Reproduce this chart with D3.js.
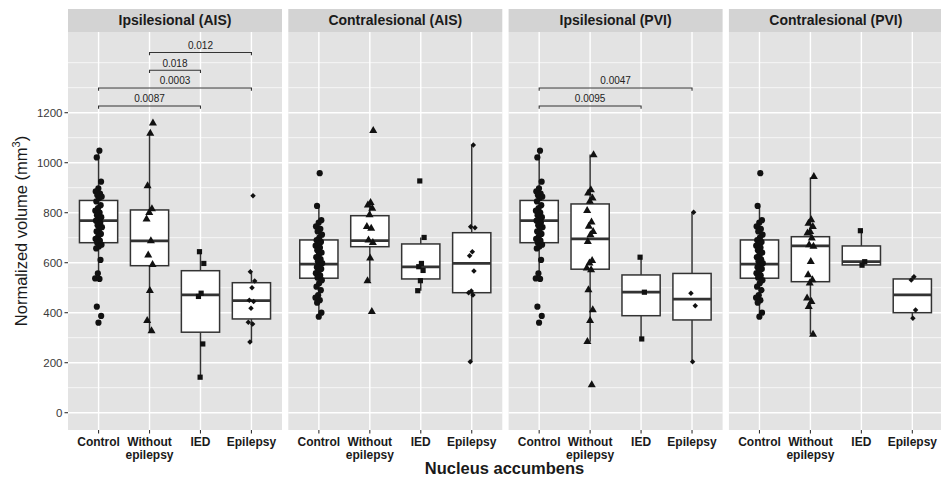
<!DOCTYPE html>
<html>
<head>
<meta charset="utf-8">
<script src="https://cdn.jsdelivr.net/npm/d3@7"></script>
<style>
  body { margin: 0; background: #ffffff; }
  svg { display: block; }
  text { font-family: "Liberation Sans", Arial, Helvetica, sans-serif; }
</style>
</head>
<body>
<svg id="chart" width="941" height="477"></svg>
<script>
// ---- data -------------------------------------------------------------
const facets = ["Ipsilesional (AIS)", "Contralesional (AIS)", "Ipsilesional (PVI)", "Contralesional (PVI)"];
const groups = ["Control", "Without epilepsy", "IED", "Epilepsy"];
const groupLabels = [["Control"], ["Without", "epilepsy"], ["IED"], ["Epilepsy"]];
const yTicks = [0, 200, 400, 600, 800, 1000, 1200];
const yMinorGrid = [100, 300, 500, 700, 900, 1100, 1300, 1400];

// normalized nucleus accumbens volumes (mm^3), one value per subject
const controlIpsi = [1048, 1021, 924, 897, 885, 876, 870, 864, 858, 845, 830, 818, 808, 800, 790, 782, 775, 768, 760, 750, 742, 735, 725, 715, 705, 695, 688, 680, 672, 665, 657, 611, 557, 537, 535, 424, 387, 360];
const controlContra = [958, 827, 770, 760, 745, 735, 725, 712, 700, 690, 683, 676, 668, 660, 650, 640, 632, 622, 614, 606, 598, 590, 582, 575, 566, 558, 549, 540, 530, 518, 504, 490, 470, 460, 450, 440, 400, 384];

const withoutIpsiAIS = [1158, 1117, 907, 815, 800, 774, 687, 630, 592, 488, 368, 327];
const iedIpsiAIS = [644, 597, 478, 465, 275, 142];
const epiIpsiAIS = [868, 564, 527, 500, 450, 445, 418, 362, 355, 283];

const withoutContraAIS = [1128, 840, 830, 817, 791, 744, 737, 690, 680, 618, 527, 404];
const iedContraAIS = [927, 701, 597, 584, 569, 528, 488];
const epiContraAIS = [1071, 744, 740, 644, 628, 567, 487, 480, 471, 204];

const withoutIpsiPVI = [1031, 891, 878, 858, 845, 808, 762, 745, 724, 711, 684, 608, 598, 578, 571, 491, 411, 368, 284, 111];
const iedIpsiPVI = [622, 482, 295];
const epiIpsiPVI = [802, 478, 428, 204];

const withoutContraPVI = [944, 771, 757, 744, 724, 718, 698, 671, 665, 604, 551, 531, 518, 458, 444, 424, 313];
const iedContraPVI = [728, 604, 590];
const epiContraPVI = [544, 531, 411, 378];

// box summaries: [lower whisker, Q1, median, Q3, upper whisker]
const boxIpsiAIS = [[535, 680, 768, 849, 1048], [327, 588, 687, 811, 1117], [142, 322, 471, 568, 644], [284, 375, 448, 520, 564]];
const boxContraAIS = [[384, 538, 594, 691, 827], [527, 664, 688, 788, 840], [488, 535, 583, 675, 701], [204, 480, 597, 720, 1071]];
const boxIpsiPVI = [[535, 680, 768, 849, 1048], [284, 574, 695, 835, 1033], [295, 388, 482, 551, 622], [204, 371, 454, 557, 802]];
const boxContraPVI = [[384, 538, 594, 691, 827], [313, 524, 667, 704, 941], [590, 591, 604, 667, 728], [378, 400, 471, 535, 544]];

// pairwise comparisons (bracket height in mm^3, p-value)
const compFacet = [0, 0, 0, 0, 2, 2];
const compFrom = ["Control", "Control", "Without epilepsy", "Without epilepsy", "Control", "Control"];
const compTo = ["IED", "Epilepsy", "IED", "Epilepsy", "IED", "Epilepsy"];
const compY = [1227, 1299, 1370, 1441, 1227, 1299];
const compP = ["0.0087", "0.0003", "0.018", "0.012", "0.0095", "0.0047"];

const pointsByFacet = [
  [controlIpsi, withoutIpsiAIS, iedIpsiAIS, epiIpsiAIS],
  [controlContra, withoutContraAIS, iedContraAIS, epiContraAIS],
  [controlIpsi, withoutIpsiPVI, iedIpsiPVI, epiIpsiPVI],
  [controlContra, withoutContraPVI, iedContraPVI, epiContraPVI]
];
const boxesByFacet = [boxIpsiAIS, boxContraAIS, boxIpsiPVI, boxContraPVI];

// ---- layout -----------------------------------------------------------
const svg = d3.select("#chart");
const panelTop = 32, panelBottom = 430, stripTop = 9;

const facetX = d3.scaleBand()
  .domain(facets)
  .range([68, 942.9])
  .paddingInner(0.0286)
  .paddingOuter(0);
const pw = facetX.bandwidth();

const x = d3.scalePoint().domain(groups).range([0, pw]).padding(0.6);
const y = d3.scaleLinear().domain([0, 1200]).range([412.7, 112.7]);
const step = x.step();

const shapes = [d3.symbolCircle, d3.symbolTriangle, d3.symbolSquare, d3.symbolSquare];
const shapeSize = [30, 28, 27, 15];
const shapeRot = [0, 0, 0, 45];

// small, repeatable horizontal jitter so stacked points stay visible
const jitter = (i, g) => (((i + 1) * 0.6180339887 + g * 0.37) % 1 - 0.5) * 7;

const ink = "#333333";

facets.forEach((f, fi) => {
  const g = svg.append("g").attr("transform", `translate(${facetX(f)},0)`);

  // panel background
  g.append("rect")
    .attr("x", 0).attr("y", panelTop)
    .attr("width", pw).attr("height", panelBottom - panelTop)
    .attr("fill", "#e3e3e3");

  // grid
  g.selectAll(".minor").data(yMinorGrid).join("line")
    .attr("x1", 0).attr("x2", pw)
    .attr("y1", d => y(d)).attr("y2", d => y(d))
    .attr("stroke", "#ffffff").attr("stroke-width", 0.7);
  g.selectAll(".major").data(yTicks).join("line")
    .attr("x1", 0).attr("x2", pw)
    .attr("y1", d => y(d)).attr("y2", d => y(d))
    .attr("stroke", "#ffffff").attr("stroke-width", 1.4);
  g.selectAll(".vgrid").data(groups).join("line")
    .attr("x1", d => x(d)).attr("x2", d => x(d))
    .attr("y1", panelTop).attr("y2", panelBottom)
    .attr("stroke", "#ffffff").attr("stroke-width", 1.4);

  // boxes
  const boxes = boxesByFacet[fi];
  const bw = step * 0.75;
  groups.forEach((grp, gi) => {
    const [lo, q1, med, q3, hi] = boxes[gi];
    const cx = x(grp);
    g.append("line")
      .attr("x1", cx).attr("x2", cx).attr("y1", y(hi)).attr("y2", y(q3))
      .attr("stroke", ink).attr("stroke-width", 1.5);
    g.append("line")
      .attr("x1", cx).attr("x2", cx).attr("y1", y(q1)).attr("y2", y(lo))
      .attr("stroke", ink).attr("stroke-width", 1.5);
    g.append("rect")
      .attr("x", cx - bw / 2).attr("y", y(q3))
      .attr("width", bw).attr("height", y(q1) - y(q3))
      .attr("fill", "#ffffff").attr("stroke", ink).attr("stroke-width", 1.5);
    g.append("line")
      .attr("x1", cx - bw / 2).attr("x2", cx + bw / 2)
      .attr("y1", y(med)).attr("y2", y(med))
      .attr("stroke", ink).attr("stroke-width", 2.8);
  });

  // points
  groups.forEach((grp, gi) => {
    const pts = pointsByFacet[fi][gi];
    const sym = d3.symbol().type(shapes[gi]).size(shapeSize[gi]);
    g.selectAll(null).data(pts).join("path")
      .attr("d", sym)
      .attr("transform", (d, i) => `translate(${x(grp) + jitter(i, gi)},${y(d)}) rotate(${shapeRot[gi]})`)
      .attr("fill", "#111111");
  });

  // comparison brackets
  compFacet.forEach((cf, ci) => {
    if (cf !== fi) return;
    const x1 = x(compFrom[ci]), x2 = x(compTo[ci]), yy = y(compY[ci]);
    const tick = y(compY[ci] - 11) - yy;
    g.append("path")
      .attr("d", `M${x1},${yy + tick}V${yy}H${x2}V${yy + tick}`)
      .attr("fill", "none").attr("stroke", ink).attr("stroke-width", 1.1);
    g.append("text")
      .attr("x", (x1 + x2) / 2).attr("y", yy - 3.5)
      .attr("text-anchor", "middle")
      .attr("font-size", 10).attr("fill", "#222")
      .text(compP[ci]);
  });

  // strip
  g.append("rect")
    .attr("x", 0).attr("y", stripTop)
    .attr("width", pw).attr("height", panelTop - stripTop)
    .attr("fill", "#d3d3d3");
  g.append("text")
    .attr("x", pw / 2).attr("y", 25)
    .attr("text-anchor", "middle")
    .attr("font-size", 14).attr("font-weight", "bold").attr("fill", "#1a1a1a")
    .text(f);

  // x axis ticks and labels
  g.selectAll(".xt").data(groups).join("line")
    .attr("x1", d => x(d)).attr("x2", d => x(d))
    .attr("y1", panelBottom).attr("y2", panelBottom + 3.5)
    .attr("stroke", ink).attr("stroke-width", 1.1);
  groups.forEach((grp, gi) => {
    groupLabels[gi].forEach((line, li) => {
      g.append("text")
        .attr("x", x(grp)).attr("y", 446 + li * 12.5)
        .attr("text-anchor", "middle")
        .attr("font-size", 12).attr("font-weight", "bold").attr("fill", "#1a1a1a")
        .text(line);
    });
  });
});

// y axis (left panel only)
const x0 = facetX(facets[0]);
const yAxis = svg.append("g");
yAxis.selectAll("line").data(yTicks).join("line")
  .attr("x1", x0 - 3.5).attr("x2", x0)
  .attr("y1", d => y(d)).attr("y2", d => y(d))
  .attr("stroke", ink).attr("stroke-width", 1.1);
yAxis.selectAll("text").data(yTicks).join("text")
  .attr("x", x0 - 5.5).attr("y", d => y(d))
  .attr("dy", "0.35em")
  .attr("text-anchor", "end")
  .attr("font-size", 11.5).attr("fill", "#3a3a3a")
  .text(d => d);

// axis titles
const yTitle = svg.append("text")
  .attr("transform", `translate(27,${(panelTop + panelBottom) / 2}) rotate(-90)`)
  .attr("text-anchor", "middle")
  .attr("font-size", 16.5).attr("fill", "#1a1a1a");
yTitle.append("tspan").text("Normalized volume (mm");
yTitle.append("tspan").attr("dy", -7).attr("font-size", 11).text("3");
yTitle.append("tspan").attr("dy", 7).text(")");

svg.append("text")
  .attr("x", (68 + 941) / 2).attr("y", 474)
  .attr("text-anchor", "middle")
  .attr("font-size", 16.5).attr("font-weight", "bold").attr("fill", "#1a1a1a")
  .text("Nucleus accumbens");
</script>
</body>
</html>
